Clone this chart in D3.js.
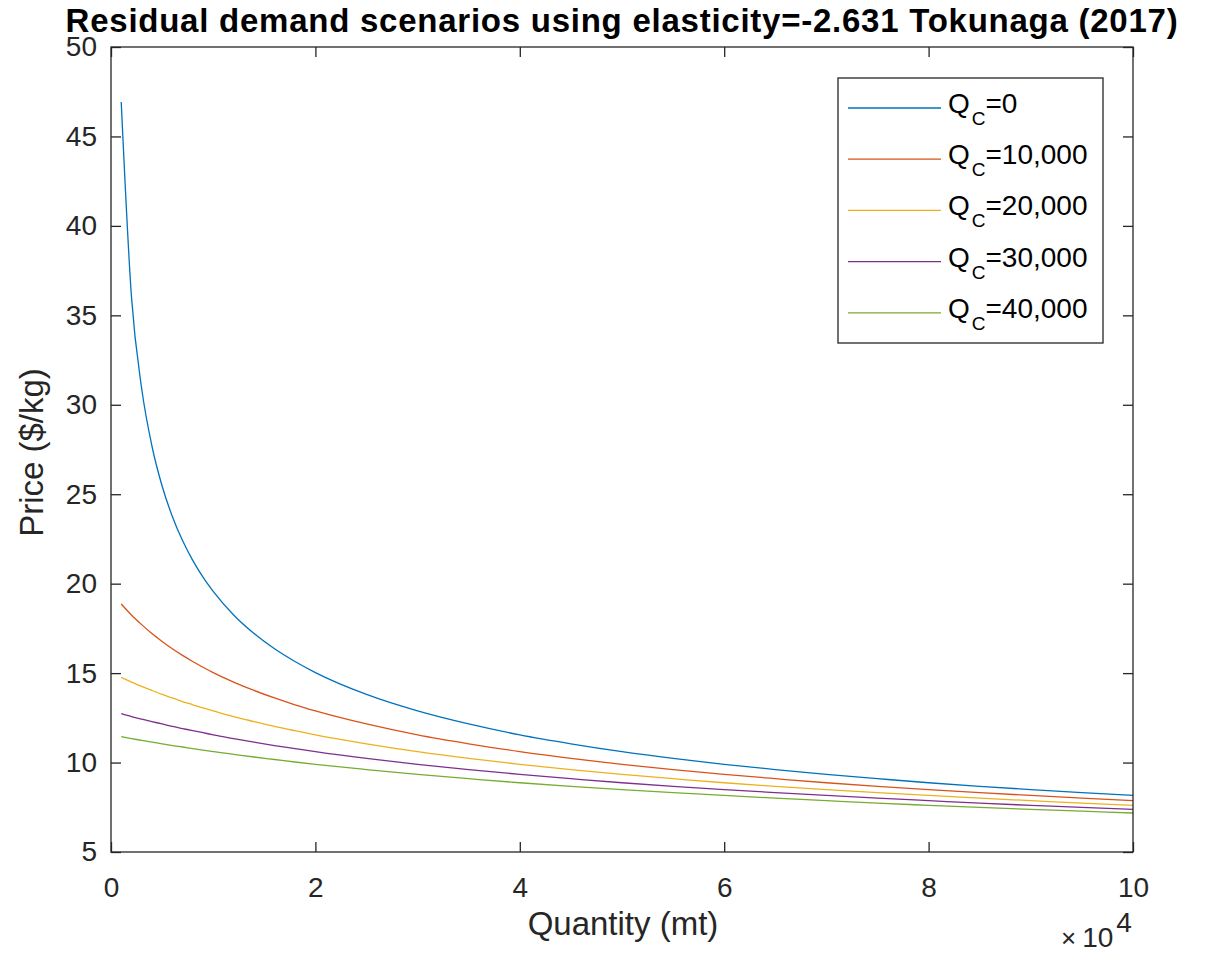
<!DOCTYPE html>
<html>
<head>
<meta charset="utf-8">
<script src="https://cdn.jsdelivr.net/npm/d3@7"></script>
<style>
  html, body { margin: 0; padding: 0; background: #fff; }
  svg { display: block; font-family: "Liberation Sans", Arial, Helvetica, sans-serif; }
</style>
</head>
<body>
<svg id="chart" width="1205" height="953"></svg>
<script>
// Quantity (mt) sample points
const quantity = [1000, 2000, 3000, 4000, 5000, 6000, 7000, 8000, 9000, 10000,
  12000, 14000, 16000, 18000, 20000,
  25000, 30000, 35000, 40000, 45000, 50000, 55000, 60000, 65000, 70000, 75000,
  80000, 85000, 90000, 95000, 100000];

// Price ($/kg) for each scenario
const priceQc0 = [46.93, 36.06, 30.91, 27.71, 25.46, 23.76, 22.41, 21.30, 20.36, 19.57,
  18.25, 17.21, 16.36, 15.65, 15.03,
  13.81, 12.89, 12.16, 11.55, 11.05, 10.61, 10.23, 9.90, 9.61, 9.34, 9.10,
  8.87, 8.67, 8.49, 8.32, 8.16];
const priceQc10000 = [18.87, 18.25, 17.71, 17.21, 16.77, 16.36, 15.99, 15.65, 15.33, 15.03,
  14.50, 14.03, 13.61, 13.23, 12.89,
  12.16, 11.55, 11.05, 10.61, 10.23, 9.90, 9.61, 9.34, 9.10, 8.87, 8.67,
  8.49, 8.32, 8.16, 8.01, 7.87];
const priceQc20000 = [14.76, 14.50, 14.26, 14.03, 13.81, 13.61, 13.41, 13.23, 13.05, 12.89,
  12.57, 12.29, 12.02, 11.78, 11.55,
  11.05, 10.61, 10.23, 9.90, 9.61, 9.34, 9.10, 8.87, 8.67, 8.49, 8.32,
  8.16, 8.01, 7.87, 7.73, 7.61];
const priceQc30000 = [12.73, 12.57, 12.43, 12.29, 12.16, 12.02, 11.90, 11.78, 11.67, 11.55,
  11.34, 11.14, 10.95, 10.78, 10.61,
  10.23, 9.90, 9.61, 9.34, 9.10, 8.87, 8.67, 8.49, 8.32, 8.16, 8.01,
  7.87, 7.73, 7.61, 7.49, 7.38];
const priceQc40000 = [11.45, 11.34, 11.24, 11.14, 11.05, 10.95, 10.87, 10.78, 10.70, 10.61,
  10.46, 10.31, 10.17, 10.03, 9.90,
  9.61, 9.34, 9.10, 8.87, 8.67, 8.49, 8.32, 8.16, 8.01, 7.87, 7.73,
  7.61, 7.49, 7.38, 7.28, 7.18];

const seriesNames = ["0", "10,000", "20,000", "30,000", "40,000"];
const seriesValues = [priceQc0, priceQc10000, priceQc20000, priceQc30000, priceQc40000];
const seriesColors = ["#0072BD", "#D95319", "#EDB120", "#7E2F8E", "#77AC30"];

const xTicks = [0, 20000, 40000, 60000, 80000, 100000];
const yTicks = [5, 10, 15, 20, 25, 30, 35, 40, 45, 50];

const titleText = "Residual demand scenarios using elasticity=-2.631 Tokunaga (2017)";
const xLabel = "Quantity (mt)";
const yLabel = "Price ($/kg)";

// Layout
const plot = { left: 111, top: 47, right: 1133, bottom: 852 };
const axisColor = "#262626";
const tickLen = 10;

const svg = d3.select("#chart");
const x = d3.scaleLinear().domain([0, 100000]).range([plot.left, plot.right]);
const y = d3.scaleLinear().domain([5, 50]).range([plot.bottom, plot.top]);

svg.append("defs").append("clipPath").attr("id", "clip")
  .append("rect")
  .attr("x", plot.left).attr("y", plot.top)
  .attr("width", plot.right - plot.left).attr("height", plot.bottom - plot.top);

// Lines
const line = d3.line()
  .x((d, i) => x(quantity[i]))
  .y(d => y(d))
  .curve(d3.curveMonotoneX);

const lines = svg.append("g").attr("clip-path", "url(#clip)");
seriesValues.forEach((vals, k) => {
  lines.append("path")
    .datum(vals)
    .attr("fill", "none")
    .attr("stroke", seriesColors[k])
    .attr("stroke-width", 1.3)
    .attr("d", line);
});

// Axes
function styleAxis(g, showLabels) {
  g.select(".domain").remove();
  g.selectAll(".tick line").attr("stroke", axisColor).attr("stroke-width", 1.3);
  g.selectAll(".tick text")
    .attr("fill", axisColor)
    .style("font-size", "28px")
    .style("font-family", '"Liberation Sans", Arial, Helvetica, sans-serif');
  if (!showLabels) g.selectAll(".tick text").remove();
}

svg.append("g")
  .attr("transform", `translate(0,${plot.bottom})`)
  .call(d3.axisBottom(x).tickValues(xTicks).tickFormat(d => d3.format("d")(d / 10000))
    .tickSizeInner(-tickLen).tickSizeOuter(0).tickPadding(25))
  .call(g => styleAxis(g, true));

svg.append("g")
  .attr("transform", `translate(0,${plot.top})`)
  .call(d3.axisTop(x).tickValues(xTicks).tickSizeInner(-tickLen).tickSizeOuter(0))
  .call(g => styleAxis(g, false));

svg.append("g")
  .attr("transform", `translate(${plot.left},0)`)
  .call(d3.axisLeft(y).tickValues(yTicks).tickFormat(d3.format("d"))
    .tickSizeInner(-tickLen).tickSizeOuter(0).tickPadding(14))
  .call(g => styleAxis(g, true));

svg.append("g")
  .attr("transform", `translate(${plot.right},0)`)
  .call(d3.axisRight(y).tickValues(yTicks).tickSizeInner(-tickLen).tickSizeOuter(0))
  .call(g => styleAxis(g, false));

// Box
svg.append("rect")
  .attr("x", plot.left).attr("y", plot.top)
  .attr("width", plot.right - plot.left).attr("height", plot.bottom - plot.top)
  .attr("fill", "none").attr("stroke", axisColor).attr("stroke-width", 1.3);

// Title
svg.append("text")
  .attr("x", (plot.left + plot.right) / 2).attr("y", 32)
  .attr("text-anchor", "middle")
  .style("font-size", "33px").style("font-weight", "bold")
  .style("letter-spacing", "0.75px")
  .attr("fill", "#000")
  .text(titleText);

// Axis labels
svg.append("text")
  .attr("x", (plot.left + plot.right) / 2 + 1).attr("y", 935)
  .attr("text-anchor", "middle")
  .style("font-size", "33px")
  .attr("fill", axisColor)
  .text(xLabel);

svg.append("text")
  .attr("transform", `translate(43,${(plot.top + plot.bottom) / 2 + 3}) rotate(-90)`)
  .attr("text-anchor", "middle")
  .style("font-size", "33px")
  .attr("fill", axisColor)
  .text(yLabel);

// x10^4 exponent
const expo = svg.append("text")
  .attr("x", 1061).attr("y", 947)
  .style("font-size", "28px")
  .attr("fill", axisColor);
expo.append("tspan").style("font-size", "26px").style("font-weight", "300").text("\u00D7");
expo.append("tspan").attr("dx", 6).text("10");
expo.append("tspan").attr("dx", 3).attr("dy", -15).text("4");

// Legend
const legend = { x: 838, y: 78, w: 265, h: 265, row0: 108, rowGap: 51.2 };
svg.append("rect")
  .attr("x", legend.x).attr("y", legend.y)
  .attr("width", legend.w).attr("height", legend.h)
  .attr("fill", "#fff").attr("stroke", axisColor).attr("stroke-width", 1.3);

seriesNames.forEach((name, k) => {
  const ry = legend.row0 + k * legend.rowGap;
  svg.append("line")
    .attr("x1", 848).attr("x2", 941)
    .attr("y1", ry).attr("y2", ry)
    .attr("stroke", seriesColors[k]).attr("stroke-width", 1.3);
  const t = svg.append("text")
    .attr("x", 948).attr("y", ry + 5)
    .style("font-size", "28px")
    .attr("fill", "#000");
  t.append("tspan").text("Q");
  t.append("tspan").attr("dy", 12).attr("dx", 2).style("font-size", "19px").text("C");
  t.append("tspan").attr("dy", -12).text("=" + name);
});
</script>
</body>
</html>
